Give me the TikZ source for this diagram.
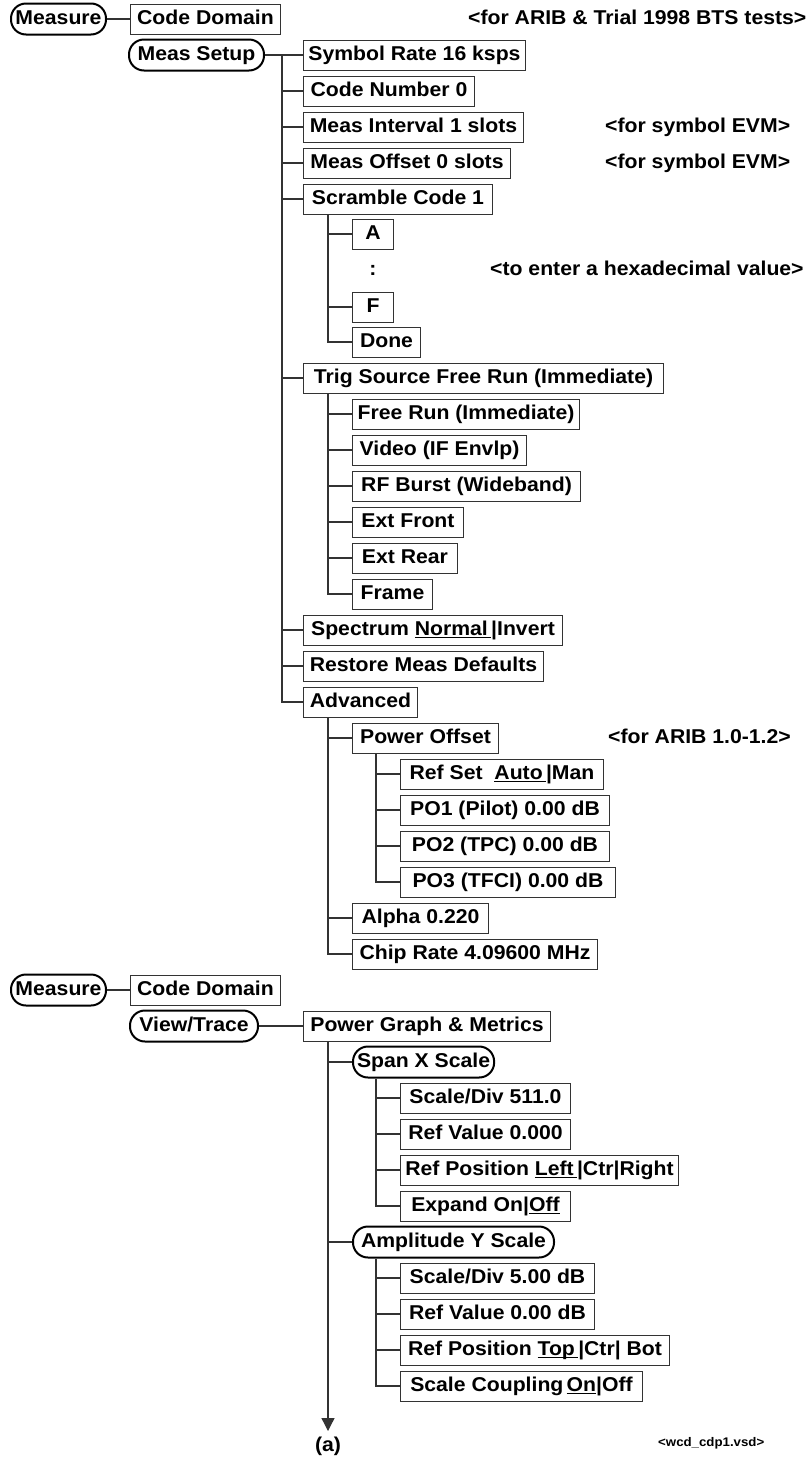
\documentclass[tikz,border=0pt]{standalone}
\usepackage{fontspec}
\setmainfont{Liberation Sans}[FakeStretch=1.06]
\usetikzlibrary{arrows.meta}
\newcommand\uln[1]{\setbox0\hbox{#1}\rlap{\rule[-2.6pt]{\wd0}{1.3pt}}\box0}
\tikzset{
  txt/.style={font=\bfseries\fontsize{20}{22}\selectfont, text height=14.5pt, text depth=4pt},
  bx/.style={txt, draw=black!80, line width=1pt, minimum height=30pt, inner xsep=3pt, inner ysep=0pt, anchor=west},
  ov/.style={txt, draw=black, line width=2pt, rounded corners=15pt, minimum height=31pt, inner xsep=4pt, inner ysep=0pt, anchor=west},
  note/.style={txt, anchor=west, inner sep=0pt},
  small/.style={font=\bfseries\fontsize{12.5}{14}\selectfont, anchor=west, inner sep=0pt},
  ln/.style={draw=black!80, line width=1.3pt}
}
\begin{document}
\begin{tikzpicture}[x=1pt, y=-1pt]
\useasboundingbox (0,0) rectangle (811,1457);
\coordinate (ta) at (282,0);
\coordinate (tb) at (328,0);
\coordinate (tc) at (376,0);
% ---------- top section ----------
\node[ov, minimum width=95pt] (m1) at (10,19) {Measure};
\node[bx, minimum width=150pt] (cd1) at (130,19) {Code Domain};
\node[note] (n1) at (468,19) {<for ARIB \& Trial 1998 BTS tests>};
\node[ov, minimum width=135pt] (ms) at (128,55) {Meas Setup};
\node[bx, minimum width=222pt] (sr) at (303,55) {Symbol Rate 16 ksps};
\node[bx, minimum width=171pt] (cn) at (303,91) {Code Number 0};
\node[bx, minimum width=220pt] (mi) at (303,127) {Meas Interval 1 slots};
\node[note] (n2) at (605,127) {<for symbol EVM>};
\node[bx, minimum width=207pt] (mo) at (303,163) {Meas Offset 0 slots};
\node[note] (n3) at (605,163) {<for symbol EVM>};
\node[bx, minimum width=189pt] (sc) at (303,199) {Scramble Code 1};
\node[bx, minimum width=41pt] (a) at (352,234) {A};
\node[txt, inner sep=0pt] (colon) at (373,270) {:};
\node[note] (n4) at (490,270) {<to enter a hexadecimal value>};
\node[bx, minimum width=41pt] (f) at (352,307) {F};
\node[bx, minimum width=68pt] (done) at (352,342) {Done};
\node[bx, minimum width=360pt] (ts) at (303,378) {Trig Source Free Run (Immediate)};
\node[bx, minimum width=227pt] (fr) at (352,414) {Free Run (Immediate)};
\node[bx, minimum width=174pt] (vid) at (352,450) {Video (IF Envlp)};
\node[bx, minimum width=228pt] (rf) at (352,486) {RF Burst (Wideband)};
\node[bx, minimum width=111pt] (ef) at (352,522) {Ext Front};
\node[bx, minimum width=105pt] (er) at (352,558) {Ext Rear};
\node[bx, minimum width=80pt] (fra) at (352,594) {Frame};
\node[bx, minimum width=259pt] (sp) at (303,630) {Spectrum \uln{Normal\,}|Invert};
\node[bx, minimum width=240pt] (rmd) at (303,666) {Restore Meas Defaults};
\node[bx, minimum width=114pt] (adv) at (303,702) {Advanced};
\node[bx, minimum width=146pt] (po) at (352,738) {Power Offset};
\node[note] (n5) at (608,738) {<for ARIB 1.0-1.2>};
\node[bx, minimum width=203pt] (rs) at (400,774) {Ref Set \ \uln{Auto\,}|Man};
\node[bx, minimum width=209pt] (po1) at (400,810) {PO1 (Pilot) 0.00 dB};
\node[bx, minimum width=209pt] (po2) at (400,846) {PO2 (TPC) 0.00 dB};
\node[bx, minimum width=215pt] (po3) at (400,882) {PO3 (TFCI) 0.00 dB};
\node[bx, minimum width=136pt] (al) at (352,918) {Alpha 0.220};
\node[bx, minimum width=245pt] (cr) at (352,954) {Chip Rate 4.09600 MHz};
% connectors top
\draw[ln] (m1.east) -- (cd1.west);
\draw[ln] (ms.east) -- (sr.west);
\draw[ln] (sr.west -| ta) |- (adv.west);
\foreach \n in {cn,mi,mo,sc,ts,sp,rmd} \draw[ln] (\n.west -| ta) -- (\n.west);
\draw[ln] (sc.south -| tb) |- (done.west);
\foreach \n in {a,f} \draw[ln] (\n.west -| tb) -- (\n.west);
\draw[ln] (ts.south -| tb) |- (fra.west);
\foreach \n in {fr,vid,rf,ef,er} \draw[ln] (\n.west -| tb) -- (\n.west);
\draw[ln] (adv.south -| tb) |- (cr.west);
\foreach \n in {po,al} \draw[ln] (\n.west -| tb) -- (\n.west);
\draw[ln] (po.south -| tc) |- (po3.west);
\foreach \n in {rs,po1,po2} \draw[ln] (\n.west -| tc) -- (\n.west);
% ---------- bottom section ----------
\node[ov, minimum width=95pt] (m2) at (10,990) {Measure};
\node[bx, minimum width=150pt] (cd2) at (130,990) {Code Domain};
\node[ov, minimum width=128pt] (vt) at (129,1026) {View/Trace};
\node[bx, minimum width=247pt] (pg) at (303,1026) {Power Graph \& Metrics};
\node[ov, minimum width=141pt] (sx) at (352,1062) {Span X Scale};
\node[bx, minimum width=170pt] (sd1) at (400,1098) {Scale/Div 511.0};
\node[bx, minimum width=170pt] (rv1) at (400,1134) {Ref Value 0.000};
\node[bx, minimum width=278pt] (rp1) at (400,1170) {Ref Position \uln{Left\,}|Ctr|Right};
\node[bx, minimum width=170pt] (ex) at (400,1206) {Expand On|\uln{Off}};
\node[ov, minimum width=201pt] (ay) at (352,1242) {Amplitude Y Scale};
\node[bx, minimum width=194pt] (sd2) at (400,1278) {Scale/Div 5.00 dB};
\node[bx, minimum width=194pt] (rv2) at (400,1314) {Ref Value 0.00 dB};
\node[bx, minimum width=269pt] (rp2) at (400,1350) {Ref Position \uln{Top\,}|Ctr| Bot};
\node[bx, minimum width=242pt] (scp) at (400,1386) {Scale Coupling\,\uln{On}|Off};
\coordinate (aend) at (328,1431);
\node[txt, inner sep=0pt] (alab) at (328,1446) {(a)};
\node[small] (fname) at (658,1443) {<wcd\_cdp1.vsd>};
% connectors bottom
\draw[ln] (m2.east) -- (cd2.west);
\draw[ln] (vt.east) -- (pg.west);
\draw[ln, -{Triangle[width=13pt,length=13pt]}] (pg.south -| tb) -- (aend);
\foreach \n in {sx,ay} \draw[ln] (\n.west -| tb) -- (\n.west);
\draw[ln] (sx.south -| tc) |- (ex.west);
\foreach \n in {sd1,rv1,rp1} \draw[ln] (\n.west -| tc) -- (\n.west);
\draw[ln] (ay.south -| tc) |- (scp.west);
\foreach \n in {sd2,rv2,rp2} \draw[ln] (\n.west -| tc) -- (\n.west);
\end{tikzpicture}
\end{document}
